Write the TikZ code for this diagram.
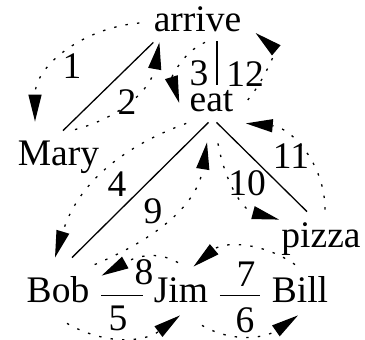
\documentclass[tikz,border=0pt]{standalone}
\usepackage{fontspec}
\setmainfont{Liberation Serif}
\usetikzlibrary{arrows.meta}
\newcommand{\wordsize}{\fontsize{18.75}{22}\selectfont}

\begin{document}
\begin{tikzpicture}[
  x=0.5pt, y=-0.5pt,
  word/.style={font=\wordsize, inner sep=0pt, anchor=base,
               text height=12.5pt, text depth=5pt},
  num/.style={font=\wordsize, inner sep=0pt},
  link/.style={line width=0.65pt},
  tie/.style={link, shorten <=5.75pt, shorten >=5.5pt},
  walk/.style={line width=0.65pt, dash pattern=on 1.2pt off 4.6pt,
               -{Triangle[length=13.5pt,width=6.5pt]}},
]
\useasboundingbox (0,0) rectangle (365,340);

% words
\node[word] (arrive) at (197.5,32) {arrive};
\node[word] (eat) at (211.5,112) {eat};
\node[word] (Mary) at (58.5,166) {Mary};
\node[word] (pizza) at (321,248) {pizza};
\node[word] (Bob) at (58,303) {Bob};
\node[word] (Jim) at (181,303) {Jim};
\node[word] (Bill) at (300,303) {Bill};

% tree
\draw[link] (arrive.south west) -- ([shift={(4.5,-10)}]Mary.north);
\draw[link] ([shift={(19.5,-1)}]arrive.south) -- ([shift={(5.5,-2)}]eat.north);
\draw[link] ([shift={(-3,0)}]eat.south) -- ([shift={(14,-20)}]Bob.north);
\draw[link] ([shift={(5,0)}]eat.south) -- ([shift={(-14,-11)}]pizza.north);
\draw[tie] (Bob.east) -- (Jim.west);
\draw[tie] (Jim.east) -- (Bill.west);

% walk round the tree
\draw[walk] ([shift={(-14,-1.5)}]arrive.west) to[out=185,in=90] ([shift={(-23.5,-19)}]Mary.north);
\draw[walk] ([shift={(16.5,-11)}]Mary.north) to[out=15,in=-100] ([shift={(6,0)}]arrive.south west);
\draw[walk] ([shift={(7.5,0)}]arrive.south) to[out=204,in=107] ([shift={(-10,-1.5)}]eat.west);
\draw[walk] ([shift={(-3,1)}]eat.south west) to[out=200,in=73] ([shift={(-3,-20)}]Bob.north);
\draw[walk] ([shift={(9,10)}]Bob.south) to[out=-30,in=217] ([shift={(-1,2)}]Jim.south);
\draw[walk] ([shift={(21,12)}]Jim.south) to[out=-30,in=215] ([shift={(-2,2)}]Bill.south);
\draw[walk] ([shift={(-5,-13)}]Bill.north) to[out=145,in=40] ([shift={(-15,-11)}]Jim.north east);
\draw[walk] ([shift={(-3,-15)}]Jim.north) to[out=150,in=29] ([shift={(12,-2)}]Bob.north east);
\draw[walk] ([shift={(5,-13)}]Bob.north east) to[out=23,in=-99] ([shift={(-4.5,20)}]eat.south);
\draw[walk] ([shift={(6.5,21)}]eat.south) to[out=-80,in=165] ([shift={(-2,-3)}]pizza.north west);
\draw[walk] ([shift={(4,-13)}]pizza.north) to[out=90,in=-5] ([shift={(12,1)}]eat.south east);
\draw[walk] ([shift={(14,-4.5)}]eat.east) to[out=50,in=-40] ([shift={(14,8.5)}]arrive.east);

% step numbers
\node[num] (n1) at (72,66) {1};
\node[num] (n2) at (127,102) {2};
\node[num] (n3) at (199,73.5) {3};
\node[num] (n4) at (117,184) {4};
\node[num] (n5) at (118,318) {5};
\node[num] (n6) at (245,320) {6};
\node[num] (n7) at (246,274) {7};
\node[num] (n8) at (144,272) {8};
\node[num] (n9) at (153,211) {9};
\node[num] (n10) at (247,183) {10};
\node[num] (n11) at (291,156) {11};
\node[num] (n12) at (245,74) {12};
\end{tikzpicture}
\end{document}
